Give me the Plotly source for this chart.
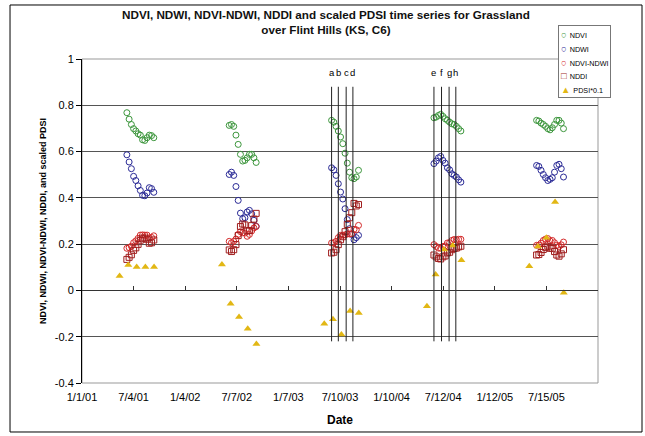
import plotly.graph_objects as go
from datetime import date, timedelta

# ---------------- data ----------------
years = [2001, 2002, 2003, 2004, 2005]
composite_doy = [161, 169, 177, 185, 193, 201, 209, 217, 225, 233, 241, 249, 257]

ndvi = [
    0.768, 0.740, 0.717, 0.699, 0.689, 0.677, 0.671, 0.651, 0.648, 0.660, 0.671, 0.669, 0.660,
    0.713, 0.717, 0.709, 0.671, 0.631, 0.588, 0.559, 0.562, 0.573, 0.588, 0.588, 0.573, 0.553,
    0.735, 0.727, 0.709, 0.689, 0.663, 0.634, 0.593, 0.550, 0.511, 0.487, 0.483, 0.490, 0.519,
    0.746, 0.749, 0.756, 0.761, 0.752, 0.742, 0.735, 0.727, 0.720, 0.717, 0.709, 0.699, 0.689,
    0.735, 0.732, 0.723, 0.717, 0.709, 0.699, 0.694, 0.703, 0.717, 0.735, 0.735, 0.723, 0.699,
]
ndwi = [
    0.586, 0.555, 0.526, 0.493, 0.475, 0.452, 0.432, 0.411, 0.409, 0.421, 0.444, 0.440, 0.424,
    0.501, 0.511, 0.497, 0.449, 0.389, 0.334, 0.310, 0.314, 0.339, 0.346, 0.331, 0.303, 0.277,
    0.530, 0.521, 0.497, 0.461, 0.425, 0.395, 0.353, 0.306, 0.267, 0.242, 0.219, 0.228, 0.238,
    0.548, 0.559, 0.573, 0.579, 0.562, 0.550, 0.530, 0.521, 0.504, 0.497, 0.490, 0.478, 0.468,
    0.540, 0.536, 0.519, 0.501, 0.487, 0.475, 0.480, 0.487, 0.511, 0.540, 0.545, 0.526, 0.490,
]
ndvi_minus_ndwi = [
    0.182, 0.185, 0.191, 0.206, 0.214, 0.225, 0.239, 0.240, 0.239, 0.239, 0.227, 0.229, 0.236,
    0.212, 0.206, 0.212, 0.222, 0.242, 0.254, 0.249, 0.248, 0.234, 0.242, 0.257, 0.270, 0.276,
    0.205, 0.206, 0.212, 0.228, 0.238, 0.239, 0.240, 0.244, 0.244, 0.245, 0.264, 0.262, 0.281,
    0.198, 0.190, 0.183, 0.182, 0.190, 0.192, 0.205, 0.206, 0.216, 0.220, 0.219, 0.221, 0.221,
    0.195, 0.196, 0.204, 0.216, 0.222, 0.224, 0.214, 0.216, 0.206, 0.195, 0.190, 0.197, 0.209,
]
nddi = [
    0.134, 0.143, 0.154, 0.173, 0.184, 0.199, 0.217, 0.226, 0.226, 0.221, 0.204, 0.206, 0.218,
    0.175, 0.168, 0.176, 0.198, 0.237, 0.276, 0.287, 0.283, 0.257, 0.259, 0.280, 0.308, 0.333,
    0.162, 0.165, 0.176, 0.198, 0.219, 0.232, 0.254, 0.285, 0.314, 0.336, 0.376, 0.365, 0.371,
    0.153, 0.145, 0.138, 0.136, 0.145, 0.149, 0.162, 0.165, 0.176, 0.181, 0.183, 0.188, 0.191,
    0.153, 0.155, 0.164, 0.177, 0.186, 0.191, 0.182, 0.182, 0.168, 0.153, 0.148, 0.158, 0.176,
]

pdsi_months = [5, 6, 7, 8, 9]
pdsi_scaled = [
    0.062, 0.110, 0.101, 0.101, 0.101,
    0.112, -0.058, -0.115, -0.166, -0.231,
    -0.144, -0.124, -0.190, -0.089, -0.097,
    -0.068, 0.069, 0.177, 0.194, 0.130,
    0.104, 0.190, 0.228, 0.382, -0.010,
]

event_labels = ["a", "b", "c", "d", "e", "f", "g", "h"]
event_dates = ["2003-06-10", "2003-07-04", "2003-08-01", "2003-08-25",
               "2004-06-09", "2004-07-06", "2004-08-02", "2004-08-26"]
event_line_range = [-0.22, 0.88]
event_label_y = 0.94

x_tickvals = ["2001-01-01", "2001-07-04", "2002-01-04", "2002-07-07", "2003-01-07",
              "2003-07-10", "2004-01-10", "2004-07-12", "2005-01-12", "2005-07-15"]
x_ticktext = ["1/1/01", "7/4/01", "1/4/02", "7/7/02", "1/7/03",
              "7/10/03", "1/10/04", "7/12/04", "1/12/05", "7/15/05"]
y_tickvals = [-0.4, -0.2, 0, 0.2, 0.4, 0.6, 0.8, 1]
y_ticktext = ["-0.4", "-0.2", "0", "0.2", "0.4", "0.6", "0.8", "1"]

series_names = ["NDVI", "NDWI", "NDVI-NDWI", "NDDI", "PDSI*0.1"]
series_colors = ["#3c963c", "#2a2a96", "#d42a2a", "#a01e1e", "#e2b714"]
series_glyphs = ["○", "○", "○", "□", "▲"]

# ---------------- derived x positions ----------------
obs_dates = [(date(y, 1, 1) + timedelta(days=d - 1)).isoformat()
             for y in years for d in composite_doy]
pdsi_dates = [date(y, m, 15).isoformat() for y in years for m in pdsi_months]

FONT = "Liberation Sans, Arial, sans-serif"

fig = go.Figure()

# event vertical lines (on the overlay axis)
ev_x, ev_y = [], []
for d in event_dates:
    ev_x += [d, d, None]
    ev_y += [event_line_range[0], event_line_range[1], None]
fig.add_trace(go.Scatter(x=ev_x, y=ev_y, mode="lines", xaxis="x2",
                         line=dict(color="#222222", width=1),
                         showlegend=False, hoverinfo="skip"))

series_values = [ndvi, ndwi, ndvi_minus_ndwi, nddi]
series_symbols = ["circle-open", "circle-open", "circle-open", "square-open"]
for name, vals, col, sym in zip(series_names[:4], series_values, series_colors[:4], series_symbols):
    fig.add_trace(go.Scatter(x=obs_dates, y=vals, mode="markers", name=name,
                             marker=dict(symbol=sym, size=6, color=col, line=dict(width=1))))
fig.add_trace(go.Scatter(x=pdsi_dates, y=pdsi_scaled, mode="markers", name=series_names[4],
                         marker=dict(symbol="triangle-up", size=7, color=series_colors[4],
                                     line=dict(width=0))))

annotations = []
for lab, d in zip(event_labels, event_dates):
    annotations.append(dict(x=d, y=event_label_y, xref="x", yref="y", text=lab,
                            showarrow=False, font=dict(family=FONT, size=9.5, color="black")))

# title
annotations.append(dict(x=0.472, y=1.1157, xref="paper", yref="paper", xanchor="center",
                        yanchor="middle", showarrow=False, align="center",
                        text="<b>NDVI, NDWI, NDVI-NDWI, NDDI and scaled PDSI time series for Grassland<br>over Flint Hills (KS, C6)</b>",
                        font=dict(family=FONT, size=11.7, color="#111111")))
# axis titles
annotations.append(dict(x=-0.0756, y=0.5, xref="paper", yref="paper", textangle=-90,
                        showarrow=False, xanchor="center", yanchor="middle",
                        text="<b>NDVI, NDWI, NDVI-NDWI, NDDI, and scaled PDSI</b>",
                        font=dict(family=FONT, size=9, color="black")))
annotations.append(dict(x=0.5, y=-0.114, xref="paper", yref="paper", showarrow=False,
                        xanchor="center", yanchor="middle", text="<b>Date</b>",
                        font=dict(family=FONT, size=12, color="black")))

# compact legend box (Excel style)
legend_lines = [
    "<span style='font-size:9.5px;color:%s'>%s</span> <span style='font-size:7.2px'>%s</span>"
    % (c, g, n) for n, c, g in zip(series_names, series_colors, series_glyphs)
]
annotations.append(dict(x=0.922, y=1.105, xref="paper", yref="paper", xanchor="left",
                        yanchor="top", showarrow=False, align="left",
                        text="<br>".join(legend_lines),
                        font=dict(family=FONT, size=10.6, color="black"),
                        bgcolor="white", bordercolor="#777777", borderwidth=1, borderpad=2))

fig.update_layout(
    width=645, height=436,
    margin=dict(l=82, r=47, t=59, b=53, autoexpand=False),
    paper_bgcolor="white", plot_bgcolor="white",
    font=dict(family=FONT, size=11, color="black"),
    showlegend=False,
    xaxis=dict(type="date", range=["2001-01-01", "2006-01-15"],
               tickvals=x_tickvals, ticktext=x_ticktext,
               showgrid=False, zeroline=False, showline=False, ticks="",
               ticklabelstandoff=6,
               tickfont=dict(family=FONT, size=11, color="black")),
    xaxis2=dict(type="date", overlaying="x", matches="x", anchor="free",
                position=0.4 / 1.4, side="bottom",
                tickvals=x_tickvals, showticklabels=False,
                showgrid=False, zeroline=False, showline=True,
                linecolor="#333333", linewidth=1,
                ticks="inside", ticklen=4, tickcolor="#333333"),
    yaxis=dict(range=[-0.4, 1], tickvals=y_tickvals, ticktext=y_ticktext,
               showgrid=True, gridcolor="#555555", gridwidth=1, zeroline=False,
               showline=True, linecolor="black", linewidth=1,
               ticks="outside", ticklen=5, tickcolor="black",
               tickfont=dict(family=FONT, size=11, color="black")),
    annotations=annotations,
    shapes=[
        dict(type="rect", xref="x domain", yref="y domain", x0=0, x1=1, y0=0, y1=1,
             line=dict(color="#999999", width=1), layer="below"),
        dict(type="rect", xref="paper", yref="paper", x0=-0.1395, x1=1.0853,
             y0=-0.1512, y1=1.1667, line=dict(color="black", width=1)),
    ],
)

fig.write_html("out.html", config={"displayModeBar": False},
               post_script="document.body.style.margin='0';")
